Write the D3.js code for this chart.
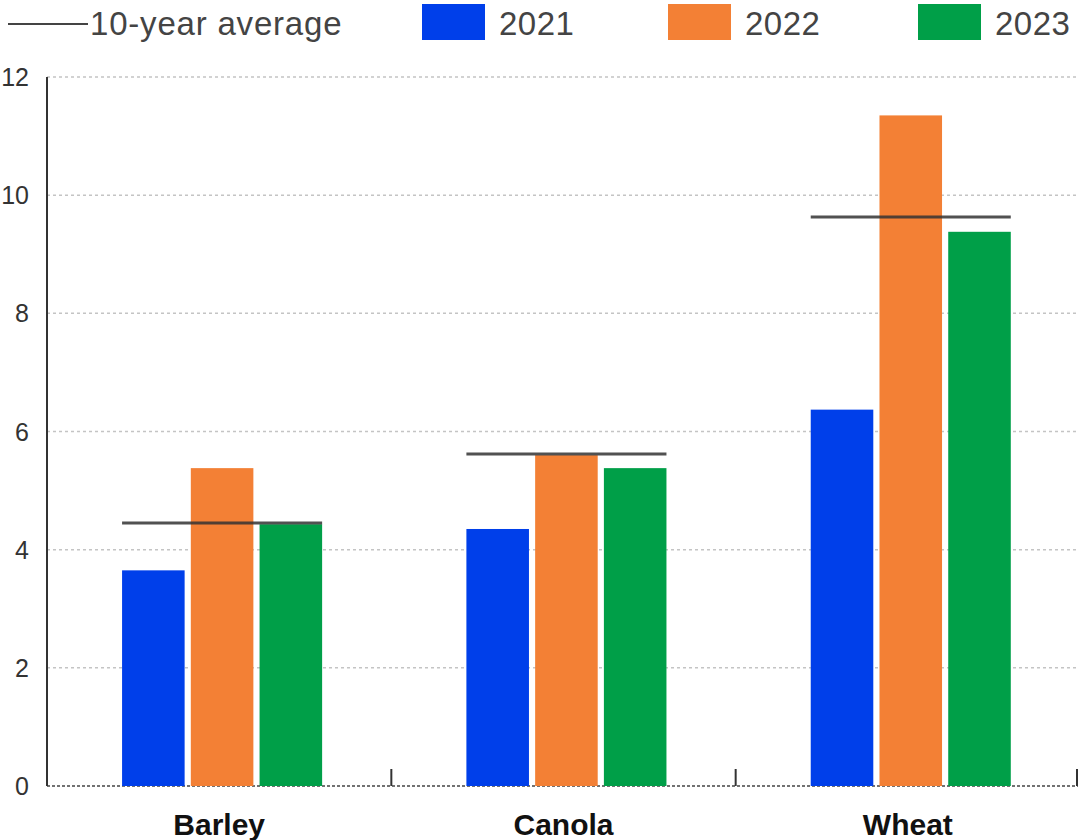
<!DOCTYPE html>
<html>
<head>
<meta charset="utf-8">
<script src="https://cdn.jsdelivr.net/npm/d3@7"></script>
<style>
  body { margin: 0; background: #fff; }
  svg { display: block; font-family: "Liberation Sans", Arial, Helvetica, sans-serif; }
</style>
</head>
<body>
<svg id="chart" width="1078" height="840"></svg>
<script>
const crops = ['Barley', 'Canola', 'Wheat'];
const years = ['2021', '2022', '2023'];
const values2021 = [3.65, 4.35, 6.37];
const values2022 = [5.38, 5.6, 11.35];
const values2023 = [4.43, 5.38, 9.38];
const tenYearAverage = [4.45, 5.62, 9.63];
const yTicks = [0, 2, 4, 6, 8, 10, 12];
const colors = ['#003fea', '#f38035', '#009f48'];

const seriesValues = [values2021, values2022, values2023];
const rows = crops.map((crop, i) => ({
    crop: crop,
    avg: tenYearAverage[i],
    bars: years.map((yr, j) => ({ year: yr, value: seriesValues[j][i], color: colors[j] }))
}));

const svg = d3.select('#chart');

const y = d3.scaleLinear().domain([0, 12]).range([786, 77]);
const x = d3.scaleBand().domain(crops).range([47, 1080]);
const bw = x.bandwidth();
const xInner = d3.scaleBand().domain(years)
    .range([bw * 0.218, bw * 0.799])
    .paddingInner(0.09);

// gridlines
svg.append('g')
    .selectAll('line')
    .data(yTicks.filter(d => d > 0))
    .join('line')
    .attr('x1', 47)
    .attr('x2', 1078)
    .attr('y1', d => y(d))
    .attr('y2', d => y(d))
    .attr('stroke', '#c4c4c4')
    .attr('stroke-width', 1.5)
    .attr('stroke-dasharray', '3,3');

// bottom axis dotted line
svg.append('line')
    .attr('x1', 47).attr('x2', 1078)
    .attr('y1', y(0)).attr('y2', y(0))
    .attr('stroke', '#444')
    .attr('stroke-width', 1.5)
    .attr('stroke-dasharray', '3,2');

// bars
const groups = svg.append('g')
    .selectAll('g')
    .data(rows)
    .join('g')
    .attr('transform', d => `translate(${x(d.crop)},0)`);

groups.selectAll('rect')
    .data(d => d.bars)
    .join('rect')
    .attr('x', d => xInner(d.year))
    .attr('width', xInner.bandwidth())
    .attr('y', d => y(d.value))
    .attr('height', d => y(0) - y(d.value))
    .attr('fill', d => d.color);

// 10-year average lines
groups.append('line')
    .attr('x1', xInner(years[0]))
    .attr('x2', xInner(years[2]) + xInner.bandwidth())
    .attr('y1', d => y(d.avg))
    .attr('y2', d => y(d.avg))
    .attr('stroke', '#333')
    .attr('stroke-opacity', 0.85)
    .attr('stroke-width', 3);

// category boundary ticks
svg.append('g')
    .selectAll('line')
    .data(crops.map(c => x(c) + bw))
    .join('line')
    .attr('x1', d => Math.min(d, 1077))
    .attr('x2', d => Math.min(d, 1077))
    .attr('y1', y(0) - 17)
    .attr('y2', y(0))
    .attr('stroke', '#333')
    .attr('stroke-width', 2);

// y axis line
svg.append('line')
    .attr('x1', 47).attr('x2', 47)
    .attr('y1', y(12)).attr('y2', y(0))
    .attr('stroke', '#333')
    .attr('stroke-width', 2);

// y tick labels
svg.append('g')
    .selectAll('text')
    .data(yTicks)
    .join('text')
    .attr('x', 29)
    .attr('y', d => y(d))
    .attr('dy', '0.36em')
    .attr('text-anchor', 'end')
    .attr('font-size', 25)
    .attr('fill', '#333')
    .text(d => d);

// category labels
svg.append('g')
    .selectAll('text')
    .data(crops)
    .join('text')
    .attr('x', d => x(d) + bw / 2)
    .attr('y', 835)
    .attr('text-anchor', 'middle')
    .attr('font-size', 30)
    .attr('font-weight', 'bold')
    .attr('fill', '#111')
    .text(d => d);

// legend
const legend = svg.append('g');
legend.append('line')
    .attr('x1', 8).attr('x2', 88)
    .attr('y1', 24).attr('y2', 24)
    .attr('stroke', '#444')
    .attr('stroke-width', 2);
legend.append('text')
    .attr('x', 90).attr('y', 35)
    .attr('font-size', 33)
    .attr('letter-spacing', 0.8)
    .attr('fill', '#444')
    .text('10-year average');

const swatchX = [422, 668, 918];
legend.selectAll('g.item')
    .data(years)
    .join('g')
    .attr('class', 'item')
    .each(function (d, i) {
        const g = d3.select(this);
        g.append('rect')
            .attr('x', swatchX[i]).attr('y', 4)
            .attr('width', 63).attr('height', 36)
            .attr('fill', colors[i]);
        g.append('text')
            .attr('x', swatchX[i] + 77).attr('y', 35)
            .attr('font-size', 33)
            .attr('letter-spacing', 0.5)
            .attr('fill', '#444')
            .text(d);
    });
</script>
</body>
</html>
